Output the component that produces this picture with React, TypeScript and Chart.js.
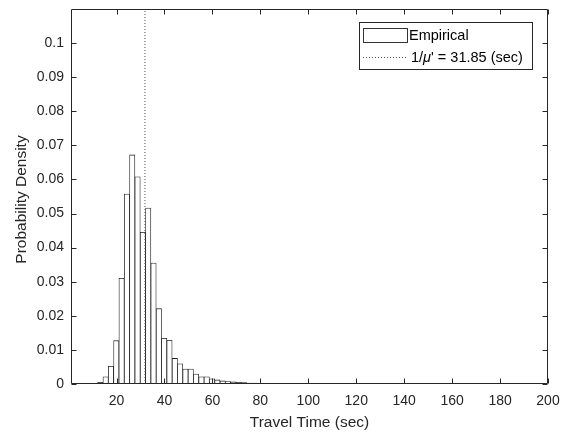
import React, { useEffect, useRef } from "react";
import { Chart, registerables } from "chart.js";

Chart.register(...registerables);

// Histogram bins (seconds): first bin left edge and bin width
const binStart = 9.9;
const binWidth = 2.22;
// Probability density per bin
const density = [
  0.0001, 0.0005, 0.0021, 0.0052, 0.0127, 0.031, 0.0557, 0.0672, 0.0608, 0.0445,
  0.0516, 0.0355, 0.0221, 0.0134, 0.0128, 0.0075, 0.0059, 0.0044, 0.0044, 0.0029,
  0.0021, 0.0021, 0.0015, 0.0012, 0.0009, 0.0007, 0.0006, 0.0005, 0.0004, 0.0003,
  0.0003, 0.0002, 0.0002, 0.0001, 0.0001, 0.0001, 0, 0.0001, 0.0001, 0,
  0.0001, 0, 0.0001, 0, 0, 0.0001, 0, 0, 0, 0.0001,
  0, 0, 0, 0.0001, 0, 0, 0, 0.0001, 0, 0,
  0, 0, 0.0001, 0, 0, 0, 0, 0, 0.0001, 0,
  0, 0, 0, 0, 0, 0, 0.0001, 0, 0, 0,
  0, 0, 0, 0, 0, 0,
];
const meanTravelTime = 31.85;
const xTicks = [20, 40, 60, 80, 100, 120, 140, 160, 180, 200];
const yTicks = [0, 0.01, 0.02, 0.03, 0.04, 0.05, 0.06, 0.07, 0.08, 0.09, 0.1];
const xRange = [1, 200];
const yRange = [0, 0.11];
const legendLabels = ["Empirical", "1/", "\u03bc", "' = 31.85 (sec)"];
const xTitle = "Travel Time (sec)";
const yTitle = "Probability Density";

const INK = "#262626";
const FONT = "'Liberation Sans', Arial, Helvetica, sans-serif";

const framePlugin = {
  id: "matlabFrame",
  afterDraw(chart: any) {
    const { ctx, chartArea: a, scales } = chart;
    const L = a.left + 0.5, R = a.right - 0.5, T = a.top + 0.5, B = a.bottom - 0.5;
    ctx.save();
    ctx.strokeStyle = INK;
    ctx.lineWidth = 1;
    ctx.beginPath();
    ctx.rect(L, T, R - L, B - T);
    const tl = 5;
    for (const v of xTicks) {
      const x = Math.round(scales.x.getPixelForValue(v)) + 0.5;
      ctx.moveTo(x, B); ctx.lineTo(x, B - tl);
      ctx.moveTo(x, T); ctx.lineTo(x, T + tl);
    }
    for (const v of yTicks) {
      const y = Math.round(scales.y.getPixelForValue(v)) + 0.5;
      ctx.moveTo(L, y); ctx.lineTo(L + tl, y);
      ctx.moveTo(R, y); ctx.lineTo(R - tl, y);
    }
    ctx.stroke();

    // axis titles
    ctx.fillStyle = INK;
    ctx.font = `15.5px ${FONT}`;
    ctx.textAlign = "center";
    ctx.textBaseline = "middle";
    ctx.fillText(xTitle, (a.left + a.right) / 2, 423);
    ctx.save();
    ctx.translate(22, (a.top + a.bottom) / 2 + 3);
    ctx.rotate(-Math.PI / 2);
    ctx.fillText(yTitle, 0, 0);
    ctx.restore();

    // legend
    const bx = 359.5, by = 22.5, bw = 173, bh = 47;
    ctx.fillStyle = "#ffffff";
    ctx.fillRect(bx, by, bw, bh);
    ctx.strokeStyle = INK;
    ctx.strokeRect(bx, by, bw, bh);
    ctx.strokeStyle = "#333333";
    ctx.strokeRect(363.5, 28.5, 44, 14);
    ctx.beginPath();
    ctx.strokeStyle = "#555555";
    ctx.setLineDash([1, 2]);
    ctx.moveTo(363, 57.5);
    ctx.lineTo(407, 57.5);
    ctx.stroke();
    ctx.setLineDash([]);
    ctx.fillStyle = "#000000";
    ctx.textAlign = "left";
    ctx.font = `14.5px ${FONT}`;
    ctx.fillText(legendLabels[0], 409, 36);
    let x = 411;
    ctx.fillText(legendLabels[1], x, 58);
    x += ctx.measureText(legendLabels[1]).width;
    ctx.font = `italic 14.5px ${FONT}`;
    ctx.fillText(legendLabels[2], x, 58);
    x += ctx.measureText(legendLabels[2]).width;
    ctx.font = `14.5px ${FONT}`;
    ctx.fillText(legendLabels[3], x, 58);
    ctx.restore();
  },
};

export default function App() {
  const ref = useRef<HTMLCanvasElement>(null);
  useEffect(() => {
    const bars = density.map((d, i) => ({ x: binStart + binWidth * (i + 0.5), y: d }));
    const chart = new Chart(ref.current as HTMLCanvasElement, {
      type: "bar",
      data: {
        datasets: [
          {
            type: "line",
            label: "mean",
            data: [
              { x: meanTravelTime, y: yRange[0] },
              { x: meanTravelTime, y: yRange[1] },
            ],
            borderColor: "#555555",
            borderWidth: 1,
            borderDash: [1, 2],
            pointRadius: 0,
            order: 0,
          } as any,
          {
            type: "bar",
            label: "Empirical",
            data: bars,
            backgroundColor: "#ffffff",
            borderColor: "#1e1e1e",
            borderWidth: 0.8,
            barPercentage: 1,
            categoryPercentage: 1,
            order: 1,
          } as any,
        ],
      },
      options: {
        animation: false,
        responsive: false,
        events: [],
        layout: { padding: { left: 0, top: 9, right: 18, bottom: 0 } },
        plugins: { legend: { display: false }, tooltip: { enabled: false } },
        scales: {
          x: {
            type: "linear",
            offset: false,
            min: xRange[0],
            max: xRange[1],
            grid: { display: false, drawTicks: false, offset: false },
            border: { display: false },
            afterBuildTicks: (s: any) => { s.ticks = xTicks.map((v) => ({ value: v })); },
            afterFit: (s: any) => { s.height = 51; s.paddingLeft = 0; s.paddingRight = 0; },
            ticks: {
              autoSkip: false,
              maxRotation: 0,
              padding: 9,
              color: INK,
              font: { family: FONT, size: 14 },
              callback: (v: any) => String(v),
            },
          },
          y: {
            type: "linear",
            min: yRange[0],
            max: yRange[1],
            grid: { display: false, drawTicks: false },
            border: { display: false },
            afterBuildTicks: (s: any) => { s.ticks = yTicks.map((v) => ({ value: v })); },
            afterFit: (s: any) => { s.width = 71; s.paddingTop = 0; s.paddingBottom = 0; },
            ticks: {
              autoSkip: false,
              padding: 7,
              color: INK,
              font: { family: FONT, size: 14 },
              callback: (v: any) => String(Number(Number(v).toFixed(2))),
            },
          },
        },
      },
      plugins: [framePlugin],
    });
    return () => chart.destroy();
  }, []);
  return (
    <div style={{ position: "absolute", left: 0, top: 0, width: 566, height: 435, background: "#fff" }}>
      <canvas ref={ref} width={566} height={435} />
    </div>
  );
}
